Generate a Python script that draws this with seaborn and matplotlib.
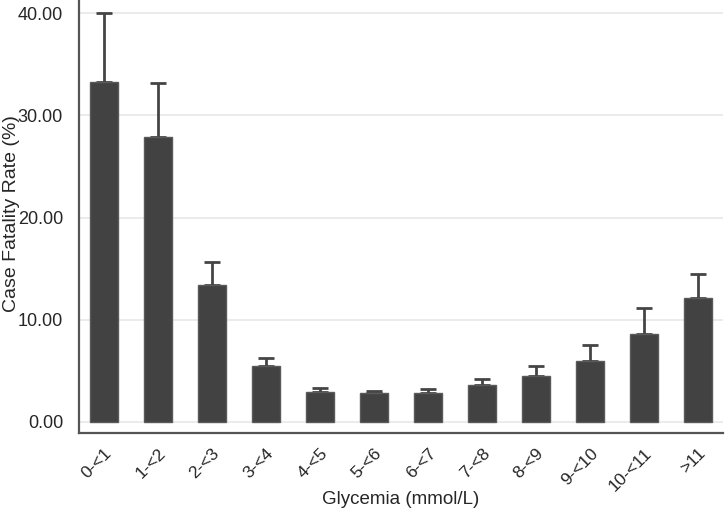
import numpy as np
import pandas as pd
import matplotlib
matplotlib.use("Agg")
import matplotlib.pyplot as plt
import seaborn as sns

# 数据
categories = ["0-<1", "1-<2", "2-<3", "3-<4", "4-<5", "5-<6",
              "6-<7", "7-<8", "8-<9", "9-<10", "10-<11", ">11"]
rates = [33.3, 27.9, 13.4, 5.45, 2.95, 2.88, 2.85, 3.65, 4.5, 6.0, 8.65, 12.15]
upper = [40.05, 33.2, 15.65, 6.3, 3.3, 3.02, 3.18, 4.22, 5.45, 7.55, 11.2, 14.5]
yticks = [0, 10, 20, 30, 40]

df = pd.DataFrame({"group": categories, "rate": rates})
err_up = np.array(upper) - np.array(rates)

sns.set_style("white")
plt.rcParams['font.family'] = ['Liberation Sans', 'DejaVu Sans']

fig = plt.figure(figsize=(7.25, 5.08), dpi=100)
ax = fig.add_axes([79 / 725, 75 / 508, 644 / 725, 433 / 508])

bar_color = "#424242"
sns.barplot(data=df, x="group", y="rate", color=bar_color, width=0.52,
            edgecolor="#5a5a5a", linewidth=1.0, saturation=1, ax=ax, zorder=3)

x = np.arange(len(categories))
ax.errorbar(x, rates, yerr=[np.zeros(len(rates)), err_up], fmt="none",
            ecolor="#454545", elinewidth=2, capsize=5.5, capthick=2, zorder=2)

ax.set_ylim(-1.08, 41.3)
ax.set_xlim(-0.46, 11.46)
ax.set_yticks(yticks)
ax.set_yticklabels([f"{v:.2f}" for v in yticks], fontsize=13)
ax.set_xticks(x)
ax.set_xticklabels(categories, rotation=45, ha="right", rotation_mode="anchor", fontsize=12.5)

ax.yaxis.grid(True, color="#e8e8e8", linewidth=1.2, zorder=0)
ax.set_axisbelow(True)
ax.tick_params(axis="y", length=6, width=1.2, color="#333333", pad=5.5)
ax.tick_params(axis="x", length=2, width=1, color="#aaaaaa", pad=7)

sns.despine(ax=ax, top=True, right=True)
for s in ["left", "bottom"]:
    ax.spines[s].set_color("#555555")
    ax.spines[s].set_linewidth(1.6)

ax.set_ylabel("Case Fatality Rate (%)", fontsize=14)
ax.set_xlabel("Glycemia (mmol/L)", fontsize=13.5)
ax.yaxis.set_label_coords(-0.092, 0.507)
ax.xaxis.set_label_coords(0.5, -0.133)

plt.savefig("out.png", dpi=100)
